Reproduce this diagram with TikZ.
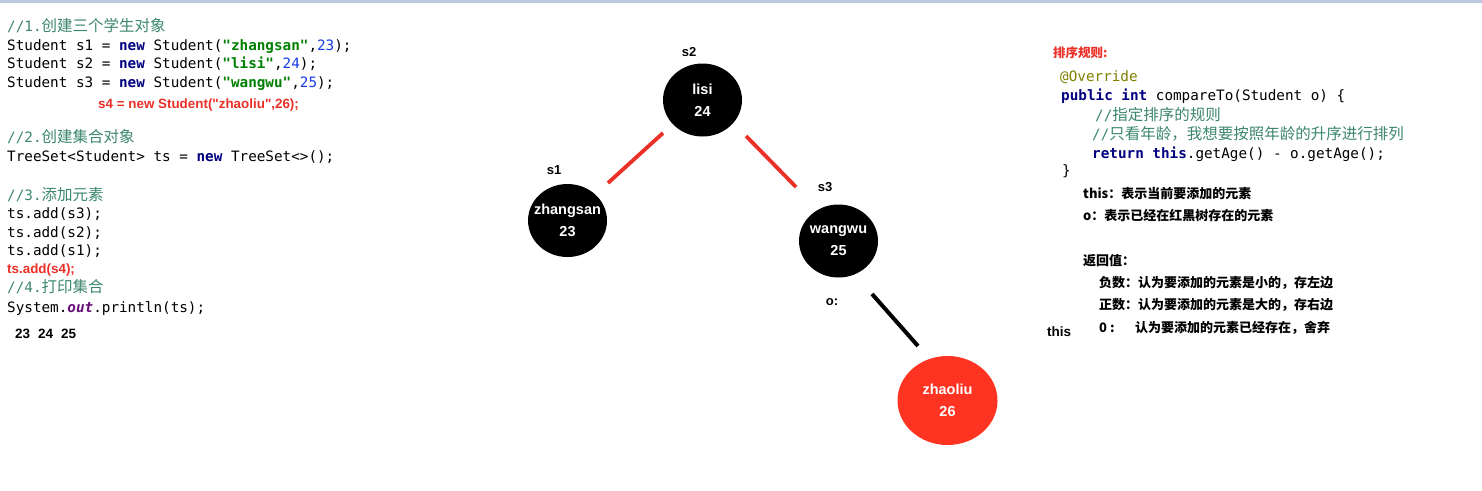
\documentclass[tikz,border=0pt]{standalone}
\usepackage{fontspec}
\setmainfont{Liberation Sans}
\setmonofont{DejaVu Sans Mono}
\newfontfamily\cjk{Noto Sans CJK SC}
\newfontfamily\lsans{Liberation Sans}
\usetikzlibrary{shapes.geometric}
\definecolor{cmt}{RGB}{60,135,110}
\definecolor{kwc}{RGB}{0,0,128}
\definecolor{strc}{RGB}{0,128,0}
\definecolor{numc}{RGB}{20,60,230}
\definecolor{fldc}{RGB}{102,14,122}
\definecolor{annc}{RGB}{128,128,0}
\definecolor{hlc}{RGB}{235,48,40}
\definecolor{nodered}{RGB}{255,51,34}
\definecolor{topbar}{RGB}{190,200,222}
\newcommand\jkw[1]{{\color{kwc}\bfseries #1}}
\newcommand\jstr[1]{{\color{strc}\bfseries #1}}
\newcommand\jnum[1]{{\color{numc}#1}}
\newcommand\jcmt[1]{{\color{cmt}#1}}
\newcommand\cjkc{\cjk\fontsize{15.5}{17}\selectfont}
\begin{document}
\begin{tikzpicture}[x=1pt,y=-1pt,
  code/.style={anchor=base west,inner sep=0pt,font=\fontsize{14.3}{17}\selectfont\ttfamily},
  hlt/.style={anchor=base west,inner sep=0pt,text=hlc,font=\fontsize{13.4}{15}\selectfont\lsans\bfseries},
  note/.style={anchor=base west,inner sep=0pt,font=\fontsize{13}{15}\selectfont\cjk\bfseries},
  lbl/.style={inner sep=0pt,font=\fontsize{13}{15}\selectfont\lsans\bfseries},
  stu/.style={ellipse,fill=black,minimum width=79pt,minimum height=73pt,inner sep=-9pt,
    text=white,align=center,font=\fontsize{14.5}{22}\selectfont\lsans\bfseries},
  redstu/.style={stu,fill=nodered,minimum width=100pt,minimum height=89pt},
  redline/.style={draw=hlc,line width=3.8pt},
  blackline/.style={draw=black,line width=4pt}]
\useasboundingbox (0,0) rectangle (1482,490);
\fill[white] (0,0) rectangle (1482,490);
\fill[topbar] (0,0) rectangle (1482,2.5);

% left code
\node[code] (c1) at (7,31) {\jcmt{//1.{\cjkc 创建三个学生对象}}};
\node[code] (c2) at (7,50) {Student s1 = \jkw{new} Student(\jstr{"zhangsan"},\jnum{23});};
\node[code] (c3) at (7,68) {Student s2 = \jkw{new} Student(\jstr{"lisi"},\jnum{24});};
\node[code] (c4) at (7,87) {Student s3 = \jkw{new} Student(\jstr{"wangwu"},\jnum{25});};
\node[hlt] (c5) at (98,108.5) {s4 = new Student("zhaoliu",26);};
\node[code] (c6) at (7,142) {\jcmt{//2.{\cjkc 创建集合对象}}};
\node[code] (c7) at (7,161) {TreeSet<Student> ts = \jkw{new} TreeSet<>();};
\node[code] (c8) at (7,200) {\jcmt{//3.{\cjkc 添加元素}}};
\node[code] (c9) at (7,218) {ts.add(s3);};
\node[code] (c10) at (7,237) {ts.add(s2);};
\node[code] (c11) at (7,255) {ts.add(s1);};
\node[hlt] (c12) at (7,273.5) {ts.add(s4);};
\node[code] (c13) at (7,292) {\jcmt{//4.{\cjkc 打印集合}}};
\node[code] (c14) at (7,312) {System.{\color{fldc}\bfseries\itshape out}.println(ts);};
\node[hlt,text=black,font=\fontsize{13.5}{15}\selectfont\lsans\bfseries] (c15) at (15,338) {23\hspace{8pt}24\hspace{8pt}25};

% tree
\node[stu] (lisi) at (702.5,100) {lisi\\24};
\node[stu] (zs) at (567.5,220.5) {zhangsan\\23};
\node[stu] (ww) at (838.5,241) {wangwu\\25};
\node[redstu] (zl) at (947.5,400.5) {zhaoliu\\26};
\node[lbl] (ls2) at (689,52) {s2};
\node[lbl] (ls1) at (554,170) {s1};
\node[lbl] (ls3) at (825,187) {s3};
\node[lbl] (lo) at (832,302) {o:};
\draw[redline] ([shift={(-39.5,33)}]lisi.center) -- ([shift={(40.5,-37.5)}]zs.center);
\draw[redline] ([shift={(43.5,36)}]lisi.center) -- ([shift={(-42.5,-54)}]ww.center);
\draw[blackline] ([shift={(33.5,53)}]ww.center) -- ([shift={(-29.5,-54.5)}]zl.center);

% right side
\node[note,text=hlc,font=\fontsize{12.5}{15}\selectfont\cjk\bfseries] (r0) at (1053,57.7) {排序规则:};
\node[code] (r1) at (1060,81) {{\color{annc}@Override}};
\node[code] (r2) at (1061,100) {\jkw{public} \jkw{int} compareTo(Student o) \{};
\node[code] (r3) at (1095,120) {\jcmt{//{\cjkc 指定排序的规则}}};
\node[code] (r4) at (1092,139) {\jcmt{//{\cjkc 只看年龄，我想要按照年龄的升序进行排列}}};
\node[code] (r5) at (1092,158) {\jkw{return} \jkw{this}.getAge() - o.getAge();};
\node[code] (r6) at (1062,175) {\}};
\node[note] (n1) at (1083,198) {this：表示当前要添加的元素};
\node[note] (n2) at (1083,220) {o：表示已经在红黑树存在的元素};
\node[note] (n3) at (1083,265) {返回值：};
\node[note] (n4) at (1099,287) {负数：认为要添加的元素是小的，存左边};
\node[note] (n5) at (1099,309) {正数：认为要添加的元素是大的，存右边};
\node[note] (n6) at (1099,332) {0 :};
\node[note] (n7) at (1135,332) {认为要添加的元素已经存在，舍弃};
\node[lbl,anchor=base west,font=\fontsize{13.5}{16}\selectfont\lsans\bfseries] (n8) at (1047,336) {this};
\end{tikzpicture}
\end{document}
